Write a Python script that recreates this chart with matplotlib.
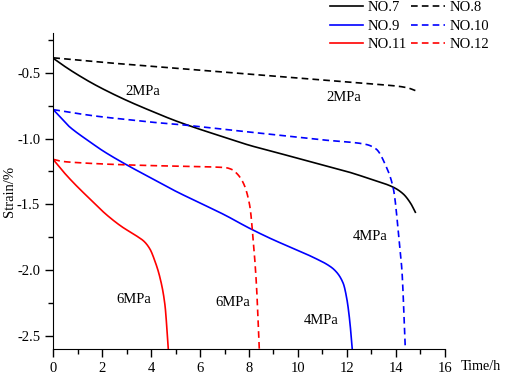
import numpy as np
import matplotlib
matplotlib.use("Agg")
import matplotlib.pyplot as plt
from matplotlib.ticker import MultipleLocator

plt.rcParams['font.family'] = ['Liberation Serif', 'DejaVu Serif']
plt.rcParams['font.size'] = 10.5

# NO.7 (2MPa, solid black)
t7 = [0, 0.3, 0.7, 1, 1.5, 2, 3, 4, 5, 6, 7, 8, 9, 10, 11, 12, 13, 13.9, 14.3, 14.6, 14.8]
s7 = [-0.39, -0.43, -0.48, -0.515, -0.57, -0.62, -0.71, -0.79, -0.865, -0.93, -0.99,
      -1.05, -1.10, -1.15, -1.20, -1.25, -1.31, -1.37, -1.42, -1.49, -1.56]
# NO.8 (2MPa, dashed black)
t8 = [0, 2, 4, 6, 8, 10, 12, 13, 14, 14.5, 14.8]
s8 = [-0.386, -0.42, -0.45, -0.48, -0.51, -0.54, -0.57, -0.585, -0.60, -0.615, -0.635]
# NO.9 (4MPa, solid blue)
t9 = [0, 0.3, 0.6, 1, 1.36, 2, 3, 4, 5, 6, 7, 8, 9, 10, 10.76, 11.2, 11.5, 11.85,
      12.0, 12.12, 12.22]
s9 = [-0.78, -0.84, -0.90, -0.96, -1.007, -1.09, -1.20, -1.30, -1.40, -1.49, -1.58,
      -1.68, -1.77, -1.85, -1.915, -1.958, -2.0, -2.1, -2.22, -2.39, -2.6]
# NO.10 (4MPa, dashed blue)
t10 = [0, 1, 2, 3, 4, 5, 6, 7, 8, 9, 10, 11, 12, 12.8, 13.2, 13.6, 13.9, 14.16, 14.25, 14.39]
s10 = [-0.78, -0.81, -0.835, -0.855, -0.875, -0.89, -0.91, -0.93, -0.95, -0.97,
       -0.99, -1.01, -1.025, -1.045, -1.08, -1.21, -1.38, -1.82, -2.0, -2.6]
# NO.11 (6MPa, solid red)
t11 = [0, 0.4, 0.82, 1.5, 2.18, 2.8, 3.4, 3.7, 3.95, 4.15, 4.35, 4.56, 4.7]
s11 = [-1.16, -1.25, -1.335, -1.46, -1.58, -1.67, -1.74, -1.78, -1.84, -1.93, -2.05,
       -2.26, -2.6]
# NO.12 (6MPa, dashed red)
t12 = [0, 0.3, 1, 3, 5, 7, 7.3, 7.5, 7.76, 8.03, 8.17, 8.3, 8.42]
s12 = [-1.158, -1.172, -1.183, -1.20, -1.21, -1.22, -1.235, -1.265, -1.335, -1.51,
       -1.77, -2.1, -2.6]

labels = ['NO.7', 'NO.8', 'NO.9', 'NO.10', 'NO.11', 'NO.12']
colors = ['black', 'black', '#0000FF', '#0000FF', '#FF0000', '#FF0000']
styles = ['-', '--', '-', '--', '-', '--']

# pressure annotations
ann_text = ['2MPa', '2MPa', '4MPa', '6MPa', '6MPa', '4MPa']
ann_x = [3.67, 11.87, 12.96, 3.3, 7.35, 10.93]
ann_y = [-0.64, -0.684, -1.743, -2.22, -2.25, -2.38]


def pchip(t, s):
    # Fritsch-Carlson monotone cubic
    x = np.asarray(t, float)
    y = np.asarray(s, float)
    h = np.diff(x)
    d = np.diff(y) / h
    m = np.zeros_like(y)
    m[0], m[-1] = d[0], d[-1]
    for i in range(1, len(x) - 1):
        if d[i - 1] * d[i] <= 0:
            m[i] = 0
        else:
            w1 = 2 * h[i] + h[i - 1]
            w2 = h[i] + 2 * h[i - 1]
            m[i] = (w1 + w2) / (w1 / d[i - 1] + w2 / d[i])
    xs, ys = [], []
    for i in range(len(x) - 1):
        u = np.linspace(0, 1, 40, endpoint=False)
        h00 = 2 * u**3 - 3 * u**2 + 1
        h10 = u**3 - 2 * u**2 + u
        h01 = -2 * u**3 + 3 * u**2
        h11 = u**3 - u**2
        xs.append(x[i] + u * h[i])
        ys.append(h00 * y[i] + h10 * h[i] * m[i] + h01 * y[i + 1] + h11 * h[i] * m[i + 1])
    xs.append([x[-1]])
    ys.append([y[-1]])
    return np.concatenate(xs), np.concatenate(ys)


fig = plt.figure(figsize=(5.05, 3.74), dpi=100)
ax = fig.add_axes([0.1056, 0.0668, 0.775, 0.844])

series = [(t7, s7), (t8, s8), (t9, s9), (t10, s10), (t11, s11), (t12, s12)]
handles = []
for (t, s), lab, c, ls in zip(series, labels, colors, styles):
    x, y = pchip(t, s)
    h, = ax.plot(x, y, color=c, linestyle=ls, lw=1.2, label=lab)
    if ls == '--':
        h.set_dashes((4, 2.5))
    handles.append(h)

for txt, x, y in zip(ann_text, ann_x, ann_y):
    ax.text(x, y, txt, ha='center', va='center')

ax.set_xlim(0, 16)
ax.set_ylim(-2.6, -0.2)
ax.xaxis.set_major_locator(MultipleLocator(2))
ax.xaxis.set_minor_locator(MultipleLocator(1))
ax.yaxis.set_minor_locator(MultipleLocator(0.25))
ax.set_yticks([-0.5, -1.0, -1.5, -2.0, -2.5])
ax.set_yticklabels(['-0.5', '-1.0', '-1.5', '-2.0', '-2.5'])
ax.tick_params(which='major', direction='out', length=6, width=1)
ax.tick_params(which='minor', direction='out', length=3.5, width=1)
ax.spines['top'].set_visible(False)
ax.spines['right'].set_visible(False)

ax.set_ylabel('Strain/%')
ax.yaxis.set_label_coords(-0.095, 0.5)
fig.text(461 / 505, 1 - 367 / 374, 'Time/h', ha='left', va='center', fontsize=10.2)

order = [0, 2, 4, 1, 3, 5]
ax.legend([handles[i] for i in order], [labels[i] for i in order],
          loc='upper left', bbox_to_anchor=(0.633, 1.024), bbox_transform=fig.transFigure,
          ncol=2, frameon=False, handlelength=2.3, handletextpad=0.3,
          columnspacing=0.3, labelspacing=0.34, borderpad=0.2)

fig.savefig('out.png', dpi=100)
